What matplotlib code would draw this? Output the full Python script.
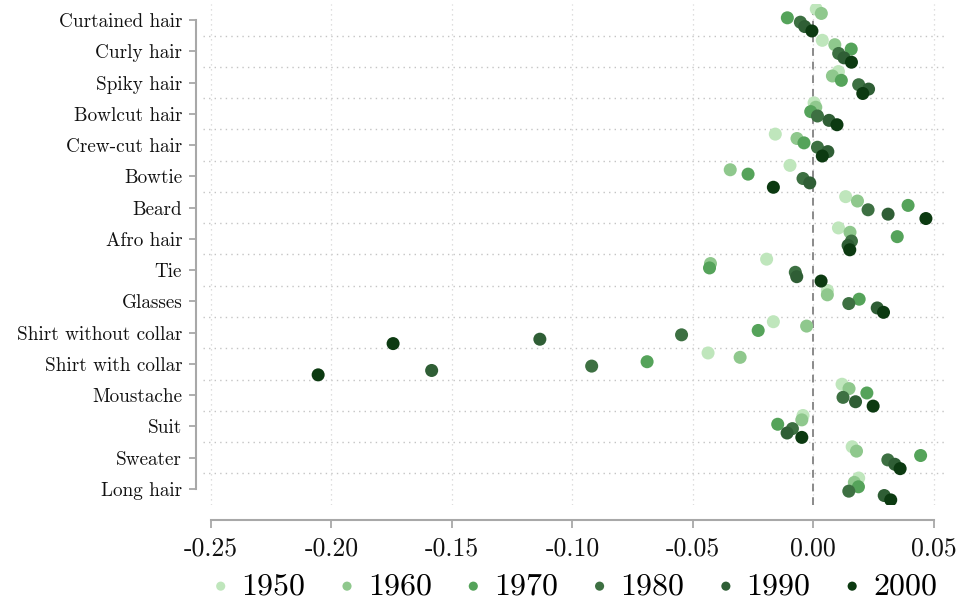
import matplotlib
matplotlib.use("Agg")
import matplotlib.pyplot as plt
import numpy as np

plt.rcParams['font.family'] = ['cmr10', 'DejaVu Serif']
plt.rcParams['axes.unicode_minus'] = False
plt.rcParams['mathtext.fontset'] = 'cm'

categories = ["Curtained hair", "Curly hair", "Spiky hair", "Bowlcut hair", "Crew-cut hair",
              "Bowtie", "Beard", "Afro hair", "Tie", "Glasses", "Shirt without collar",
              "Shirt with collar", "Moustache", "Suit", "Sweater", "Long hair"]
decades = ["1950", "1960", "1970", "1980", "1990", "2000"]

v1950 = [0.0012, 0.0037, 0.0104, 0.0003, -0.0158, -0.0097, 0.0134, 0.0104, -0.0194, 0.0058,
         -0.0166, -0.0437, 0.0119, -0.0043, 0.0161, 0.0188]
v1960 = [0.0033, 0.0089, 0.0079, 0.0010, -0.0068, -0.0345, 0.0183, 0.0152, -0.0427, 0.0058,
         -0.0028, -0.0304, 0.0148, -0.0048, 0.0179, 0.0170]
v1970 = [-0.0108, 0.0157, 0.0116, -0.0011, -0.0039, -0.0271, 0.0393, 0.0348, -0.0431, 0.0190,
         -0.0229, -0.0690, 0.0222, -0.0148, 0.0445, 0.0187]
v1980 = [-0.0054, 0.0105, 0.0188, 0.0017, 0.0017, -0.0043, 0.0227, 0.0158, -0.0075, 0.0147,
         -0.0547, -0.0920, 0.0123, -0.0087, 0.0309, 0.0147]
v1990 = [-0.0036, 0.0127, 0.0229, 0.0065, 0.0060, -0.0015, 0.0310, 0.0144, -0.0069, 0.0265,
         -0.1135, -0.1584, 0.0175, -0.0109, 0.0338, 0.0294]
v2000 = [-0.0006, 0.0158, 0.0205, 0.0098, 0.0037, -0.0166, 0.0467, 0.0151, 0.0032, 0.0291,
         -0.1744, -0.2055, 0.0248, -0.0048, 0.0360, 0.0321]

series = [v1950, v1960, v1970, v1980, v1990, v2000]
colors = ["#bfe6bc", "#8fc88d", "#55a35a", "#3d7042", "#2f5e35", "#0c3a11"]

xticks = [-0.25, -0.20, -0.15, -0.10, -0.05, 0.00, 0.05]
xticklabels = ["-0.25", "-0.20", "-0.15", "-0.10", "-0.05", "0.00", "0.05"]

fig = plt.figure(figsize=(9.61, 6.07), dpi=100)
ax = fig.add_axes([0.2112, 0.1687, 0.7721, 0.8241])

ypos = np.arange(len(categories))
step = 0.14
for i, (vals, col, lab) in enumerate(zip(series, colors, decades)):
    off = (i - 2.5) * step
    ax.scatter(vals, ypos + off, s=88, color=col, edgecolors='none', zorder=3, label=lab)

ax.set_xlim(-0.2533, 0.0546)
ax.set_ylim(15.5, -0.5)

# grid
for k in range(len(categories) - 1):
    ax.axhline(k + 0.5, color='#c4c4c4', lw=1.0, ls=(0, (1, 3)), zorder=1)
for xt in xticks:
    ax.axvline(xt, color='#d4d4d4', lw=0.9, ls=(0, (1, 3)), zorder=1)
ax.axvline(0, color='#8a8a8a', lw=1.4, ls=(0, (4, 3)), zorder=2)

ax.set_yticks(ypos)
ax.set_yticklabels(categories)
ax.set_xticks(xticks)
ax.set_xticklabels(xticklabels)

for s in ['top', 'right']:
    ax.spines[s].set_visible(False)
ax.spines['left'].set_position(('outward', 5))
ax.spines['bottom'].set_position(('outward', 11))
ax.spines['left'].set_bounds(0, 15)
ax.spines['bottom'].set_bounds(-0.25, 0.05)
for s in ['left', 'bottom']:
    ax.spines[s].set_color('#a8a8a8')
    ax.spines[s].set_linewidth(1.5)
ax.tick_params(axis='y', length=5, width=1.3, color='#a8a8a8', pad=5,
               labelcolor='#111111', labelsize=13.8)
ax.tick_params(axis='x', length=6, width=1.3, color='#a8a8a8', pad=6,
               labelcolor='#111111', labelsize=18.5)

leg = fig.legend(loc='center', bbox_to_anchor=(0.594, 0.034), ncol=6, frameon=False,
                 fontsize=23, markerscale=0.7, handletextpad=0.15, columnspacing=0.8,
                 borderaxespad=0, handlelength=1.0)

fig.savefig("out.png", dpi=100)
